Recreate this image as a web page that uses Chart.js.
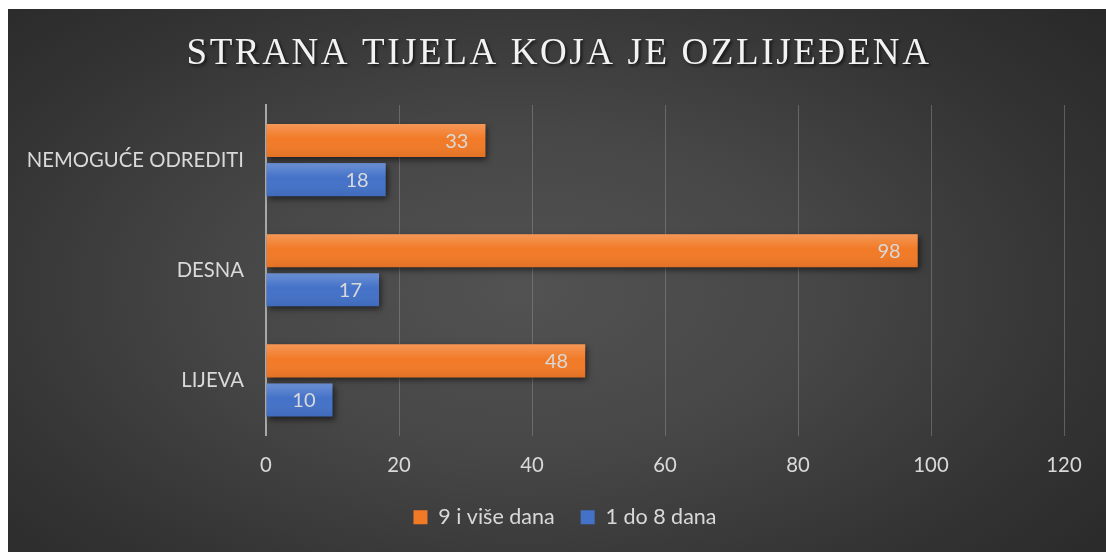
<!DOCTYPE html>
<html>
<head>
<meta charset="utf-8">
<script src="https://cdn.jsdelivr.net/npm/chart.js@4.4.1/dist/chart.umd.min.js"></script>
<style>
  html, body { margin: 0; padding: 0; background: #fff; }
  #wrap {
    position: absolute; left: 8px; top: 9px; width: 1098px; height: 543px;
    background: radial-gradient(ellipse 75% 85% at 47% 52%, #525252 0%, #474747 35%, #333 70%, #262626 100%);
  }
</style>
</head>
<body>
<div id="wrap"><canvas id="chart" width="1098" height="543"></canvas></div>
<script>
// data
const TITLE = 'STRANA TIJELA KOJA JE OZLIJEĐENA';
const CATEGORIES = ['NEMOGUĆE ODREDITI', 'DESNA', 'LIJEVA'];
const SERIES_NAMES = ['9 i više dana', '1 do 8 dana'];
const LONG_STAY = [33, 98, 48];   // 9 i više dana
const SHORT_STAY = [18, 17, 10];  // 1 do 8 dana
const X_MIN = 0, X_MAX = 120, X_STEP = 20;

const ORANGE = '#f27a27';
const BLUE = '#4472c8';
const TEXT = '#d9d9d9';
const FONT = 'Lato';
const FSIZE = 20.3;

// title drawn by hand so it can have letter spacing like the original
const titlePlugin = {
  id: 'spacedTitle',
  afterLayout(chart) {
    // legend in the original sits a bit right of centre
    chart.legend.left += 29;
    chart.legend.right += 29;
  },
  afterDraw(chart) {
    const ctx = chart.ctx;
    ctx.save();
    ctx.font = '37px "Liberation Serif"';
    ctx.letterSpacing = '2.6px';
    ctx.fillStyle = '#f2f2f2';
    ctx.textAlign = 'center';
    ctx.textBaseline = 'alphabetic';
    ctx.shadowColor = 'rgba(0,0,0,0.6)';
    ctx.shadowBlur = 3;
    ctx.shadowOffsetX = 2;
    ctx.shadowOffsetY = 2;
    ctx.fillText(TITLE, chart.width / 2 + 2, 55);
    ctx.restore();
  }
};

// drop shadow + soft gloss on bars, then value labels
const barDeco = {
  id: 'barDeco',
  beforeDatasetsDraw(chart) {
    const ctx = chart.ctx;
    ctx.save();
    ctx.shadowColor = 'rgba(0,0,0,0.55)';
    ctx.shadowBlur = 6;
    ctx.shadowOffsetX = 2;
    ctx.shadowOffsetY = 3;
  },
  afterDatasetsDraw(chart) {
    const ctx = chart.ctx;
    ctx.restore();
    ctx.save();
    chart.data.datasets.forEach((ds, di) => {
      const meta = chart.getDatasetMeta(di);
      meta.data.forEach((bar, i) => {
        const { x, y, base, height } = bar.getProps(['x', 'y', 'base', 'height'], true);
        const top = y - height / 2;
        const g = ctx.createLinearGradient(0, top, 0, top + height);
        g.addColorStop(0, 'rgba(255,255,255,0.22)');
        g.addColorStop(0.45, 'rgba(255,255,255,0)');
        g.addColorStop(1, 'rgba(0,0,0,0.07)');
        ctx.fillStyle = g;
        ctx.fillRect(base, top, x - base, height);

        ctx.font = '20px ' + FONT;
        ctx.fillStyle = TEXT;
        ctx.textAlign = 'right';
        ctx.textBaseline = 'middle';
        ctx.fillText(String(ds.data[i]), x - 17, y + 1);
      });
    });
    ctx.restore();
  }
};

new Chart(document.getElementById('chart'), {
  type: 'bar',
  data: {
    labels: CATEGORIES,
    datasets: [
      { label: SERIES_NAMES[0], data: LONG_STAY, backgroundColor: ORANGE },
      { label: SERIES_NAMES[1], data: SHORT_STAY, backgroundColor: BLUE }
    ]
  },
  options: {
    indexAxis: 'y',
    responsive: false,
    animation: false,
    categoryPercentage: 0.71,
    barPercentage: 0.846,
    layout: { padding: { top: 96, right: 42, left: 0, bottom: 14 } },
    scales: {
      x: {
        min: X_MIN, max: X_MAX,
        ticks: { stepSize: X_STEP, color: TEXT, font: { family: FONT, size: FSIZE }, padding: 18 },
        grid: { color: 'rgba(150,150,150,0.45)', lineWidth: 1, drawTicks: false },
        border: { display: false },
        afterFit(scale) { scale.height = 45; }
      },
      y: {
        ticks: { color: TEXT, font: { family: FONT, size: FSIZE }, padding: 22 },
        grid: { display: false, drawTicks: false },
        border: { color: '#a8a8a8', width: 2 },
        afterFit(scale) { scale.width = 258; }
      }
    },
    plugins: {
      title: { display: false },
      tooltip: { enabled: false },
      legend: {
        position: 'bottom',
        labels: {
          color: TEXT,
          font: { family: FONT, size: 21.5 },
          boxWidth: 14, boxHeight: 14,
          padding: 26
        }
      }
    }
  },
  plugins: [titlePlugin, barDeco]
});
</script>
</body>
</html>
